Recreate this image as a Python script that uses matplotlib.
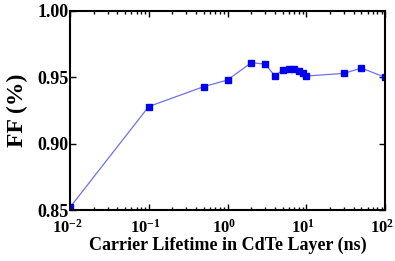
import matplotlib
matplotlib.use("Agg")
import matplotlib.pyplot as plt
import matplotlib.transforms as mtransforms
from matplotlib.ticker import LogLocator, NullFormatter, FixedLocator

plt.rcParams['font.family'] = ['Liberation Serif', 'DejaVu Serif']
plt.rcParams['font.weight'] = 'bold'
plt.rcParams['mathtext.fontset'] = 'custom'
plt.rcParams['mathtext.rm'] = 'Liberation Serif:bold'
plt.rcParams['mathtext.bf'] = 'Liberation Serif:bold'
plt.rcParams['mathtext.it'] = 'Liberation Serif:bold'

# --- data ---
lifetime = [0.01, 0.1, 0.5, 1, 2, 3, 4, 5, 6, 7, 8, 9, 10, 30, 50, 100]
ff = [0.852, 0.928, 0.943, 0.948, 0.961, 0.960, 0.951, 0.9555, 0.9565,
      0.9565, 0.955, 0.953, 0.951, 0.953, 0.957, 0.950]
y_ticks = [0.85, 0.90, 0.95, 1.00]

fig = plt.figure(figsize=(3.95, 2.61), dpi=100)
ax = fig.add_axes([0.177, 0.195, 0.798, 0.763])

ax.plot(lifetime, ff, color='#7070ee', linewidth=0.9, marker='s',
        markersize=4, markerfacecolor='#0000ee', markeredgecolor='#0000ee')

ax.set_xscale('log')
ax.set_xlim(1e-2, 1e2)
ax.set_ylim(0.85, 1.00)
ax.yaxis.set_major_locator(FixedLocator(y_ticks))
ax.set_yticklabels(['%.2f' % v for v in y_ticks])
ax.xaxis.set_major_locator(LogLocator(base=10))
ax.xaxis.set_minor_locator(LogLocator(base=10, subs=range(2, 10)))
ax.xaxis.set_minor_formatter(NullFormatter())

ax.tick_params(which='both', direction='in', top=True, right=True, width=1.0)
ax.tick_params(axis='x', which='major', length=4, pad=6, labelsize=12)
ax.tick_params(axis='y', which='major', length=4, pad=1, labelsize=13)
ax.tick_params(which='minor', length=2)
for s in ax.spines.values():
    s.set_linewidth(1.5)

# nudge x tick labels slightly left, as in the original
shift = mtransforms.ScaledTranslation(-3 / 100, 0, fig.dpi_scale_trans)
for lbl in ax.get_xticklabels():
    lbl.set_transform(lbl.get_transform() + shift)

ax.set_xlabel('Carrier Lifetime in CdTe Layer (ns)', fontsize=13,
              fontweight='bold', labelpad=0)
ax.set_ylabel('FF (%)', fontsize=17, fontweight='bold', labelpad=7)

fig.savefig('out.png', dpi=100)
